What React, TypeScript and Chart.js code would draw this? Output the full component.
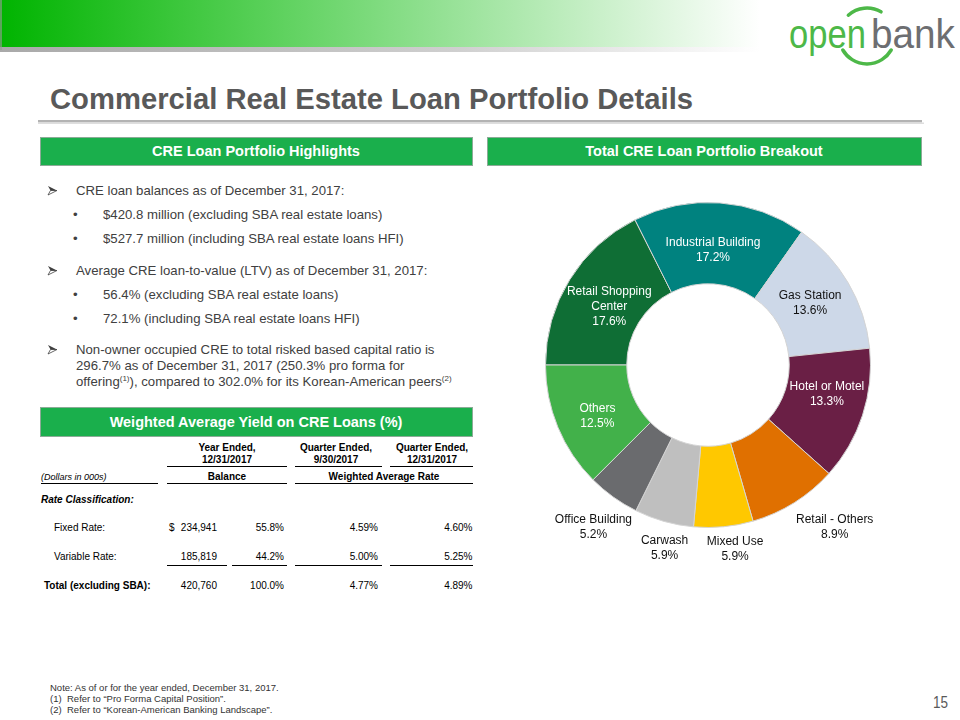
import React, { useEffect, useRef } from 'react';
import { Chart, registerables } from 'chart.js';

Chart.register(...registerables);

// ---------- Data ----------
const categories = [
  'Retail Shopping Center',
  'Industrial Building',
  'Gas Station',
  'Hotel or Motel',
  'Retail - Others',
  'Mixed Use',
  'Carwash',
  'Office Building',
  'Others',
];
const shares = [17.6, 17.2, 13.6, 13.3, 8.9, 5.9, 5.9, 5.2, 12.5];

const tableColumns = ['Year Ended,|12/31/2017', 'Quarter Ended,|9/30/2017', 'Quarter Ended,|12/31/2017'];
const rowNames = ['Fixed Rate:', 'Variable Rate:', 'Total (excluding SBA):'];
const balances = ['234,941', '185,819', '420,760'];
const balanceShares = ['55.8%', '44.2%', '100.0%'];
const rateQ3 = ['4.59%', '5.00%', '4.77%'];
const rateQ4 = ['4.60%', '5.25%', '4.89%'];

// ---------- Styles ----------
const sliceColors = ['#0f6e35', '#00827f', '#cdd8e8', '#6a1f45', '#e07000', '#ffc800', '#bfbfbf', '#6a6b6e', '#42b14a'];
const FONT = "'Liberation Sans', Arial, Helvetica, sans-serif";
const TEXT = '#404040';

const LABEL_LINES: Record<string, string[]> = {
  'Retail Shopping Center': ['Retail Shopping', 'Center'],
};
const LABEL_PLACE: Record<string, { outside: boolean; dx: number; dy: number; color: string }> = {
  'Retail Shopping Center': { outside: false, dx: 5, dy: 6, color: '#ffffff' },
  'Industrial Building': { outside: false, dx: -4, dy: 7, color: '#ffffff' },
  'Gas Station': { outside: false, dx: -3, dy: 0, color: '#111111' },
  'Hotel or Motel': { outside: false, dx: 3, dy: -8, color: '#ffffff' },
  'Retail - Others': { outside: true, dx: 26, dy: 2, color: '#111111' },
  'Mixed Use': { outside: true, dx: 9, dy: -4, color: '#111111' },
  'Carwash': { outside: true, dx: 8, dy: 1, color: '#111111' },
  'Office Building': { outside: true, dx: -4, dy: 8, color: '#111111' },
  'Others': { outside: false, dx: 2, dy: 5, color: '#ffffff' },
};
const OUTSIDE_GAP = 27;

const sliceLabelPlugin = {
  id: 'sliceLabels',
  afterDatasetsDraw(chart: any) {
    const ctx = chart.ctx;
    const meta = chart.getDatasetMeta(0);
    ctx.save();
    ctx.font = `12px ${FONT}`;
    ctx.textAlign = 'center';
    ctx.textBaseline = 'middle';
    meta.data.forEach((arc: any, i: number) => {
      const p = arc.getProps(['x', 'y', 'startAngle', 'endAngle', 'innerRadius', 'outerRadius'], true);
      const name = categories[i];
      const place = LABEL_PLACE[name];
      const mid = (p.startAngle + p.endAngle) / 2;
      const r = place.outside ? p.outerRadius + OUTSIDE_GAP : (p.innerRadius + p.outerRadius) / 2;
      const cx = p.x + Math.cos(mid) * r + place.dx;
      const cy = p.y + Math.sin(mid) * r + place.dy;
      const lines = [...(LABEL_LINES[name] || [name]), shares[i].toFixed(1) + '%'];
      ctx.fillStyle = place.color;
      const lh = 15;
      lines.forEach((t, k) => {
        ctx.fillText(t, cx, cy + (k - (lines.length - 1) / 2) * lh);
      });
    });
    ctx.restore();
  },
};

function Arrow({ x, y }: { x: number; y: number }) {
  const yc = y - 4.5;
  return (
    <g>
      <path d={`M${x},${yc - 4.5} L${x + 9},${yc} L${x + 2.5},${yc} Z`} fill={TEXT} />
      <path d={`M${x},${yc + 4.5} L${x + 9},${yc} L${x + 2.5},${yc} Z`} fill="none" stroke={TEXT} strokeWidth={0.8} />
    </g>
  );
}

function Box({ x, y, w, h, text }: { x: number; y: number; w: number; h: number; text: string }) {
  return (
    <g>
      <rect x={x + 0.5} y={y + 0.5} width={w} height={h} fill="#1aaf4c" stroke="#8cab97" strokeWidth={1} />
      <text x={x + w / 2} y={y + h / 2 + 5} textAnchor="middle" fontWeight="bold" fontSize={14.5} fill="#ffffff">
        {text}
      </text>
    </g>
  );
}

export default function App() {
  const canvasRef = useRef<HTMLCanvasElement | null>(null);

  useEffect(() => {
    document.body.style.margin = '0';
    const canvas = canvasRef.current;
    if (!canvas) return;
    const chart = new Chart(canvas, {
      type: 'doughnut',
      data: {
        labels: categories,
        datasets: [
          {
            data: shares,
            backgroundColor: sliceColors,
            borderColor: '#d4d4d4',
            borderWidth: 1,
          },
        ],
      },
      options: {
        responsive: false,
        animation: false,
        cutout: '50%',
        rotation: 270,
        layout: { padding: 47 },
        events: [],
        plugins: { legend: { display: false }, tooltip: { enabled: false }, title: { display: false } },
      },
      plugins: [sliceLabelPlugin],
    } as any);
    return () => chart.destroy();
  }, []);

  const colCenters = [227, 336, 432];
  const rowY = [530.5, 560, 588.5];
  const rowX = [54, 54, 44];

  return (
    <div style={{ position: 'absolute', left: 0, top: 0, width: 960, height: 720, background: '#ffffff', overflow: 'hidden' }}>
      <svg width={960} height={720} style={{ position: 'absolute', left: 0, top: 0 }} fontFamily={FONT}>
        <defs>
          <linearGradient id="hdrG" x1={0} y1={0} x2={760} y2={0} gradientUnits="userSpaceOnUse">
            <stop offset="0" stopColor="#00b400" />
            <stop offset="0.4" stopColor="#66d466" />
            <stop offset="1" stopColor="#ffffff" />
          </linearGradient>
          <linearGradient id="shG" x1={0} y1={0} x2={760} y2={0} gradientUnits="userSpaceOnUse">
            <stop offset="0" stopColor="#a9a9a9" />
            <stop offset="0.6" stopColor="#cfcfcf" />
            <stop offset="1" stopColor="#ffffff" />
          </linearGradient>
        </defs>

        {/* header bar */}
        <rect x={0} y={0} width={960} height={47} fill="url(#hdrG)" />
        <rect x={0} y={47} width={960} height={5} fill="url(#shG)" />
        <rect x={0} y={0} width={2} height={50} fill="#9a9a9a" opacity={0.6} />

        {/* logo */}
        <text x={789} y={48} fontSize={41} fill="#4db848" textLength={77} lengthAdjust="spacingAndGlyphs">open</text>
        <text x={871} y={48} fontSize={41} fill="#6d6e71" textLength={84} lengthAdjust="spacingAndGlyphs">bank</text>
        <path d="M848.3,15.2 A28,28 0 0 1 881,11.8" fill="none" stroke="#4db848" strokeWidth={3.5} strokeLinecap="round" />
        <path d="M891.2,50 A28,28 0 0 1 842.8,50" fill="none" stroke="#4db848" strokeWidth={3.5} strokeLinecap="round" />

        {/* title */}
        <text x={50} y={109} fontSize={29} fontWeight="bold" fill="#595959" textLength={643} lengthAdjust="spacingAndGlyphs">
          Commercial Real Estate Loan Portfolio Details
        </text>
        <rect x={38} y={120} width={884} height={2.5} fill="#b3b3b3" />
        <rect x={38} y={122.5} width={886} height={1.5} fill="#dedede" />

        {/* section headers */}
        <Box x={40} y={137} w={432} h={28} text="CRE Loan Portfolio Highlights" />
        <Box x={487} y={137} w={434} h={28} text="Total CRE Loan Portfolio Breakout" />
        <Box x={40} y={407} w={432} h={29} text="Weighted Average Yield on CRE Loans (%)" />

        {/* bullets */}
        <g fontSize={13.2} fill={TEXT}>
          <Arrow x={48} y={195} />
          <text x={76} y={195}>CRE loan balances as of December 31, 2017:</text>
          <text x={73} y={219}>•</text>
          <text x={103} y={219}>$420.8 million (excluding SBA real estate loans)</text>
          <text x={73} y={243}>•</text>
          <text x={103} y={243}>$527.7 million (including SBA real estate loans HFI)</text>
          <Arrow x={48} y={275} />
          <text x={76} y={275}>Average CRE loan-to-value (LTV) as of December 31, 2017:</text>
          <text x={73} y={299}>•</text>
          <text x={103} y={299}>56.4% (excluding SBA real estate loans)</text>
          <text x={73} y={323}>•</text>
          <text x={103} y={323}>72.1% (including SBA real estate loans HFI)</text>
          <Arrow x={48} y={354} />
          <text x={76} y={354}>Non-owner occupied CRE to total risked based capital ratio is</text>
          <text x={76} y={370}>296.7% as of December 31, 2017 (250.3% pro forma for</text>
          <text x={76} y={386}>
            offering<tspan fontSize={8} dy={-5}>(1)</tspan>
            <tspan dy={5}>), compared to 302.0% for its Korean-American peers</tspan>
            <tspan fontSize={8} dy={-5}>(2)</tspan>
          </text>
        </g>

        {/* table */}
        <g fontSize={10} fill="#000000">
          {tableColumns.map((c, i) => {
            const [a, b] = c.split('|');
            return (
              <g key={c + i} fontWeight="bold">
                <text x={colCenters[i]} y={451} textAnchor="middle">{a}</text>
                <text x={colCenters[i]} y={463} textAnchor="middle">{b}</text>
              </g>
            );
          })}
          <g stroke="#000" strokeWidth={1}>
            <line x1={167} x2={287} y1={466.5} y2={466.5} />
            <line x1={295} x2={382} y1={466.5} y2={466.5} />
            <line x1={390} x2={473} y1={466.5} y2={466.5} />
            <line x1={41} x2={158} y1={483.5} y2={483.5} />
            <line x1={167} x2={287} y1={483.5} y2={483.5} />
            <line x1={295} x2={473} y1={483.5} y2={483.5} />
            <line x1={167} x2={227} y1={565.5} y2={565.5} />
            <line x1={232} x2={287} y1={565.5} y2={565.5} />
            <line x1={295} x2={382} y1={565.5} y2={565.5} />
            <line x1={390} x2={473} y1={565.5} y2={565.5} />
          </g>
          <text x={41} y={480} fontStyle="italic" fontSize={9}>(Dollars in 000s)</text>
          <text x={227} y={480} textAnchor="middle" fontWeight="bold">Balance</text>
          <text x={384} y={480} textAnchor="middle" fontWeight="bold">Weighted Average Rate</text>
          <text x={41} y={502.5} fontWeight="bold" fontStyle="italic">Rate Classification:</text>
          {rowNames.map((n, i) => (
            <g key={n} fontWeight={i === 2 ? 'bold' : 'normal'}>
              <text x={rowX[i]} y={rowY[i]}>{n}</text>
            </g>
          ))}
          <text x={169} y={rowY[0]}>$</text>
          {rowNames.map((n, i) => (
            <g key={'v' + n} textAnchor="end">
              <text x={217} y={rowY[i]}>{balances[i]}</text>
              <text x={284} y={rowY[i]}>{balanceShares[i]}</text>
              <text x={378} y={rowY[i]}>{rateQ3[i]}</text>
              <text x={472.5} y={rowY[i]}>{rateQ4[i]}</text>
            </g>
          ))}
        </g>

        {/* footnotes */}
        <g fontSize={9.5} fill="#333333">
          <text x={50} y={691}>Note: As of or for the year ended, December 31, 2017.</text>
          <text x={50} y={702}>(1)</text>
          <text x={67} y={702}>Refer to “Pro Forma Capital Position”.</text>
          <text x={50} y={713}>(2)</text>
          <text x={67} y={713}>Refer to “Korean-American Banking Landscape”.</text>
        </g>
        <text x={948} y={708} textAnchor="end" fontSize={16} fill="#595959" textLength={15} lengthAdjust="spacingAndGlyphs">15</text>
      </svg>
      <canvas
        ref={canvasRef}
        width={420}
        height={420}
        style={{ position: 'absolute', left: 498, top: 155, width: 420, height: 420 }}
      />
    </div>
  );
}
